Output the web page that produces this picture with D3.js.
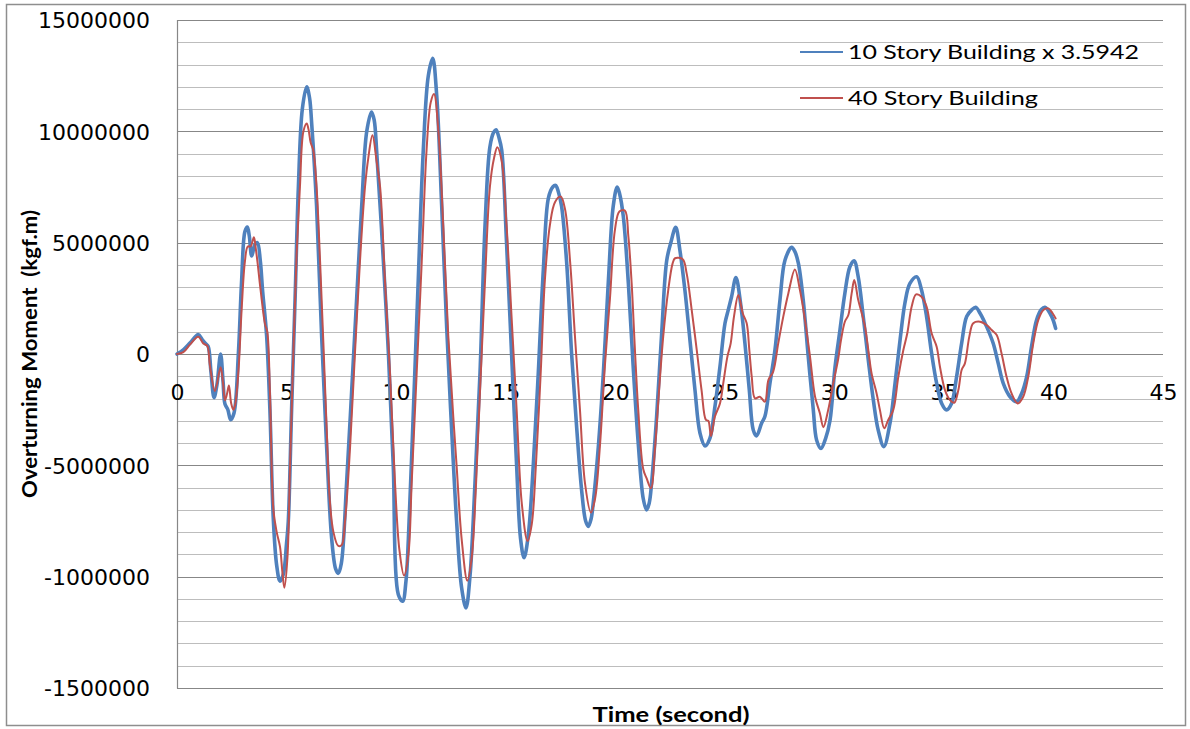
<!DOCTYPE html>
<html>
<head>
<meta charset="utf-8">
<script src="https://cdn.jsdelivr.net/npm/d3@7/dist/d3.min.js"></script>
<style>
  html, body { margin: 0; padding: 0; background: #ffffff; }
  svg { display: block; }
</style>
</head>
<body>
<svg id="chart" width="1190" height="729"></svg>
<script>
// Overturning moment time histories (kgf.m) against time (s)
const seriesNames = ["10 Story Building x 3.5942", "40 Story Building"];
const seriesColors = ["#4F81BD", "#C0504D"];

const tenStoryTime = [0,0.3,0.6,0.97,1.15,1.3,1.42,1.55,1.69,1.82,1.99,2.1,2.19,2.32,2.45,2.6,2.8,2.95,3.1,3.21,3.3,3.41,3.55,3.67,3.8,3.91,4.09,4.24,4.4,4.55,4.7,4.85,5.0,5.08,5.23,5.39,5.54,5.72,5.92,6.05,6.15,6.37,6.6,6.83,7.06,7.24,7.36,7.5,7.74,7.97,8.2,8.43,8.66,8.88,9.0,9.11,9.42,9.65,9.87,10.1,10.3,10.45,10.56,10.79,11.01,11.24,11.47,11.67,11.85,12.08,12.31,12.53,12.76,12.99,13.19,13.37,13.6,13.83,14.06,14.28,14.45,14.56,14.7,14.82,15.04,15.27,15.5,15.68,15.84,16.03,16.26,16.49,16.72,16.95,17.15,17.28,17.4,17.55,17.78,18.01,18.24,18.47,18.65,18.77,18.9,19.0,19.23,19.46,19.69,19.91,20.09,20.2,20.37,20.6,20.82,21.05,21.28,21.43,21.55,21.66,21.89,22.12,22.35,22.53,22.76,22.95,23.18,23.41,23.64,23.87,24.1,24.32,24.55,24.78,25.01,25.16,25.31,25.51,25.72,25.92,26.12,26.3,26.45,26.68,26.83,27.06,27.29,27.52,27.75,28.05,28.2,28.36,28.58,28.81,29.04,29.19,29.39,29.6,29.8,30.03,30.26,30.48,30.71,30.9,31.09,31.32,31.55,31.78,32.0,32.26,32.54,32.77,33.0,33.22,33.45,33.76,33.98,34.21,34.44,34.67,34.9,35.12,35.35,35.58,35.81,36.04,36.27,36.45,36.65,36.95,37.25,37.48,37.71,38.02,38.32,38.55,38.78,39.0,39.23,39.45,39.61,39.92,40.1];
const tenStoryMoment = [0,200000,500000,870000,650000,470000,350000,-800000,-1960000,-1400000,0,-1200000,-2250000,-2500000,-2950000,-2660000,0,3300000,5500000,5700000,5300000,4400000,4900000,5000000,4200000,2800000,830000,-2500000,-7500000,-9500000,-10200000,-9900000,-8500000,-7500000,-2500000,2500000,7500000,11000000,12000000,11500000,10300000,6650000,830000,-4200000,-8300000,-9650000,-9850000,-9400000,-5800000,-1700000,2500000,6650000,10000000,10870000,10500000,9150000,4160000,0,-5000000,-10800000,-11100000,-10200000,-8300000,-2500000,3300000,9150000,12500000,13280000,11650000,6650000,1160000,-3300000,-7500000,-10500000,-11400000,-10000000,-5800000,-830000,5800000,9300000,9950000,10070000,9700000,9150000,5000000,0,-5000000,-8300000,-9150000,-8150000,-5000000,-830000,3800000,7000000,7500000,7570000,7300000,6650000,4160000,0,-3300000,-6150000,-7500000,-7740000,-7400000,-6650000,-4160000,-830000,3330000,6650000,7500000,7200000,6170000,3170000,-570000,-4000000,-6500000,-7000000,-6700000,-5800000,-2800000,930000,4200000,4970000,5690000,4670000,2870000,630000,-1620000,-3560000,-4130000,-3790000,-2370000,-570000,1380000,1980000,2570000,3430000,2280000,480000,-1620000,-3410000,-3680000,-3110000,-2810000,-1320000,180000,2430000,4220000,4790000,4600000,4070000,2430000,-120000,-2510000,-3860000,-4240000,-3800000,-3000000,-600000,1100000,2720000,3920000,4190000,3470000,1680000,-270000,-2070000,-3410000,-4160000,-3110000,-1320000,630000,2280000,3170000,3470000,2870000,1680000,30000,-1320000,-2220000,-2510000,-2220000,-1020000,480000,1680000,1980000,2100000,1830000,1230000,480000,-420000,-1320000,-1920000,-2140000,-1770000,-1020000,330000,1530000,2000000,2100000,1680000,1150000];

const fortyStoryTime = [0,0.29,0.59,0.97,1.2,1.38,1.5,1.73,1.99,2.1,2.19,2.28,2.37,2.47,2.57,2.65,2.8,2.95,3.1,3.23,3.36,3.51,3.6,3.67,3.82,4.02,4.12,4.24,4.4,4.55,4.7,4.81,4.9,5.04,5.16,5.31,5.46,5.61,5.77,5.92,6.0,6.1,6.22,6.37,6.53,6.68,6.83,6.98,7.14,7.36,7.52,7.67,7.9,8.12,8.35,8.58,8.73,8.92,9.11,9.27,9.49,9.72,9.95,10.15,10.36,10.56,10.71,10.94,11.17,11.39,11.58,11.73,11.93,12.15,12.38,12.61,12.76,12.99,13.25,13.45,13.65,13.83,14.06,14.28,14.47,14.62,14.82,15.04,15.27,15.5,15.73,16.0,16.19,16.38,16.6,16.79,17.02,17.25,17.51,17.71,17.94,18.16,18.39,18.62,18.89,19.08,19.3,19.53,19.76,19.99,20.19,20.44,20.6,20.75,20.9,21.05,21.28,21.43,21.63,21.81,21.97,22.19,22.42,22.62,22.73,23.08,23.26,23.49,23.72,23.94,24.14,24.25,24.37,24.55,24.78,24.93,25.12,25.27,25.42,25.62,25.82,26.0,26.12,26.23,26.38,26.6,26.83,26.99,27.21,27.44,27.67,27.9,28.2,28.43,28.66,28.89,29.12,29.34,29.5,29.72,29.95,30.18,30.3,30.48,30.64,30.79,30.91,31.09,31.25,31.4,31.55,31.7,31.93,32.08,32.28,32.46,32.69,32.92,33.15,33.33,33.53,33.73,33.98,34.21,34.44,34.67,34.82,35.05,35.28,35.47,35.66,35.81,35.96,36.16,36.34,36.65,36.95,37.18,37.41,37.63,37.86,38.09,38.37,38.62,38.85,39.08,39.31,39.54,39.77,39.96,40.1];
const fortyStoryMoment = [0,80000,420000,780000,470000,370000,-500000,-1660000,-600000,-1300000,-2080000,-1800000,-1410000,-2200000,-2500000,-2300000,-830000,2000000,4160000,4830000,4830000,5240000,4700000,4160000,2830000,1330000,1000000,-1660000,-7000000,-8000000,-8650000,-9800000,-10500000,-9150000,-5000000,0,4500000,7500000,10000000,10350000,10100000,9500000,9150000,7500000,4160000,500000,-3330000,-6650000,-8000000,-8620000,-8570000,-7500000,-4160000,0,4160000,7500000,8800000,9820000,8650000,7500000,3330000,-830000,-5800000,-8800000,-9950000,-9000000,-5800000,-830000,4160000,9150000,11300000,11680000,10000000,5800000,830000,-2830000,-5000000,-8300000,-10180000,-9150000,-5800000,-1660000,3330000,7500000,8800000,9280000,8650000,5800000,1660000,-2500000,-6650000,-8400000,-7650000,-5000000,-830000,3330000,5800000,6820000,7070000,6500000,4160000,830000,-2500000,-5800000,-7120000,-6500000,-4160000,-500000,2500000,5600000,6400000,6440000,5270000,3170000,180000,-2500000,-5180000,-5580000,-6030000,-4310000,-2070000,780000,2870000,4070000,4300000,4250000,3620000,1980000,180000,-1620000,-2960000,-3000000,-3680000,-2810000,-2220000,-1320000,-120000,480000,1680000,2650000,1830000,1380000,180000,-1020000,-1990000,-1920000,-2140000,-1170000,-790000,480000,1680000,2720000,3800000,2870000,1530000,-120000,-1920000,-2660000,-3290000,-2510000,-1320000,-200000,600000,1450000,1750000,2720000,3320000,2430000,1830000,1230000,180000,-870000,-1770000,-2510000,-3340000,-2960000,-2510000,-1020000,180000,930000,2130000,2680000,2570000,2130000,930000,330000,-570000,-1620000,-2070000,-2190000,-1620000,-720000,-420000,780000,1380000,1450000,1300000,1080000,850000,30000,-1020000,-1770000,-2220000,-1920000,-1020000,480000,1530000,1980000,2050000,1830000,1600000];

const xTicks = [0, 5, 10, 15, 20, 25, 30, 35, 40, 45];
const yTickValues = [15000000, 10000000, 5000000, 0, -5000000, -10000000, -15000000];
const yTickLabels = ["15000000", "10000000", "5000000", "0", "-5000000", "-1000000", "-1500000"];
const gridStep = 1000000;

const svg = d3.select("#chart");
const W = 1190, H = 729;
const plot = { left: 177, right: 1163, top: 20, bottom: 688 };

svg.append("rect").attr("width", W).attr("height", H).attr("fill", "#ffffff");
// chart frame
svg.append("rect")
  .attr("x", 6.5).attr("y", 4.5).attr("width", 1179).attr("height", 721)
  .attr("fill", "none").attr("stroke", "#8e8e8e").attr("stroke-width", 1.5);

const x = d3.scaleLinear().domain([0, 45]).range([plot.left, plot.right]);
const y = d3.scaleLinear().domain([-15000000, 15000000]).range([plot.bottom, plot.top]);

// horizontal gridlines every 1,000,000; darker at the labelled values
const gridValues = d3.range(-15000000, 15000000 + 1, gridStep);
svg.append("g").selectAll("line").data(gridValues).join("line")
  .attr("x1", plot.left).attr("x2", plot.right)
  .attr("y1", d => Math.round(y(d)) + 0.5).attr("y2", d => Math.round(y(d)) + 0.5)
  .attr("stroke", d => (d % 5000000 === 0) ? "#878787" : "#bdbdbd")
  .attr("stroke-width", 1);

// vertical value axis line
svg.append("line")
  .attr("x1", plot.left + 0.5).attr("x2", plot.left + 0.5)
  .attr("y1", plot.top).attr("y2", plot.bottom + 0.5)
  .attr("stroke", "#878787").attr("stroke-width", 1.2);

// y tick labels
const yAxis = d3.axisLeft(y).tickValues(yTickValues)
  .tickFormat((d, i) => yTickLabels[i]).tickSize(0).tickPadding(27);
const gy = svg.append("g").attr("transform", `translate(${plot.left},0)`).call(yAxis);
gy.select(".domain").remove();
gy.selectAll("text")
  .attr("font-family", "DejaVu Sans").attr("font-size", 22).attr("fill", "#000")
  .attr("dy", "0.36em");

// x tick labels (sitting under the zero line)
const xAxis = d3.axisBottom(x).tickValues(xTicks).tickFormat(d3.format("d")).tickSize(0).tickPadding(30);
const gx = svg.append("g").attr("transform", `translate(0,${y(0)})`).call(xAxis);
gx.select(".domain").remove();
gx.selectAll("text")
  .attr("font-family", "DejaVu Sans").attr("font-size", 22).attr("fill", "#000");

// series lines
const line = d3.line()
  .x(d => x(d[0])).y(d => y(d[1]))
  .curve(d3.curveCatmullRom.alpha(0.5));

const tenStory = tenStoryTime.map((t, i) => [t, tenStoryMoment[i]]);
const fortyStory = fortyStoryTime.map((t, i) => [t, fortyStoryMoment[i]]);

svg.append("path").datum(tenStory)
  .attr("d", line).attr("fill", "none")
  .attr("stroke", seriesColors[0]).attr("stroke-width", 3.6)
  .attr("stroke-linejoin", "round").attr("stroke-linecap", "round");
svg.append("path").datum(fortyStory)
  .attr("d", line).attr("fill", "none")
  .attr("stroke", seriesColors[1]).attr("stroke-width", 2)
  .attr("stroke-linejoin", "round").attr("stroke-linecap", "round");

// legend
const legend = svg.append("g");
const legendRows = [52, 98];
const legendWidths = [291, 190];
seriesNames.forEach((name, i) => {
  legend.append("line")
    .attr("x1", 800).attr("x2", 843)
    .attr("y1", legendRows[i]).attr("y2", legendRows[i])
    .attr("stroke", seriesColors[i]).attr("stroke-width", 2);
  legend.append("text")
    .attr("x", 848).attr("y", legendRows[i] + 7)
    .attr("font-family", "Lato").attr("font-size", 19).attr("fill", "#000")
    .attr("textLength", legendWidths[i]).attr("lengthAdjust", "spacingAndGlyphs")
    .text(name);
});

// axis titles
svg.append("text")
  .attr("x", 671).attr("y", 722)
  .attr("text-anchor", "middle")
  .attr("font-family", "Lato").attr("font-weight", "bold").attr("font-size", 20)
  .attr("textLength", 157).attr("lengthAdjust", "spacingAndGlyphs")
  .text("Time (second)");

svg.append("text")
  .attr("transform", "translate(37,354) rotate(-90)")
  .attr("text-anchor", "middle")
  .style("white-space", "pre")
  .attr("font-family", "Lato").attr("font-weight", "bold").attr("font-size", 21)
  .attr("textLength", 288).attr("lengthAdjust", "spacingAndGlyphs")
  .text("Overturning Moment  (kgf.m)");
</script>
</body>
</html>
